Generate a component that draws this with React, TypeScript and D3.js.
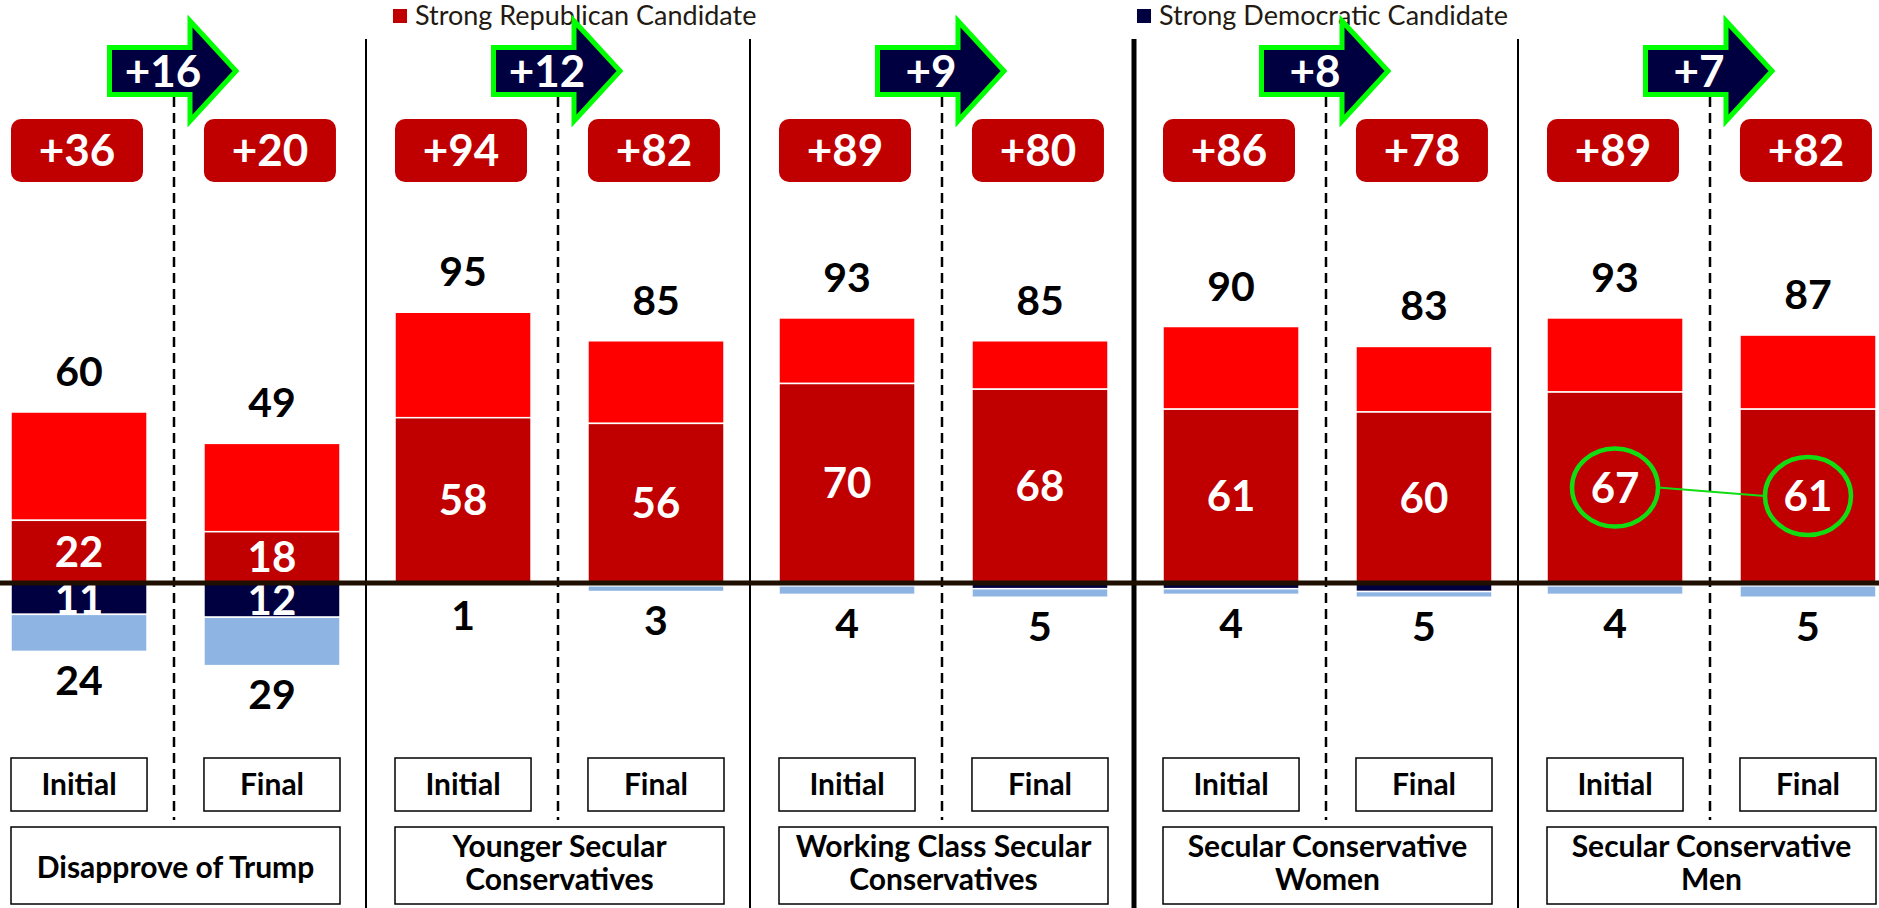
import React, { useEffect } from 'react';
import * as d3 from 'd3';

// ---------- data ----------
const groupLines: string[][] = [
  ['Disapprove of Trump'],
  ['Younger Secular', 'Conservatives'],
  ['Working Class Secular', 'Conservatives'],
  ['Secular Conservative', 'Women'],
  ['Secular Conservative', 'Men'],
];
const groupKeys = ['g0', 'g1', 'g2', 'g3', 'g4'];
const phases = ['Initial', 'Final'];
const strongRep = [[22, 18], [58, 56], [70, 68], [61, 60], [67, 61]];
const totalRep = [[60, 49], [95, 85], [93, 85], [90, 83], [93, 87]];
const strongDem = [[11, 12], [0, 1], [1, 2], [2, 3], [1, 1]];
const totalDem = [[24, 29], [1, 3], [4, 5], [4, 5], [4, 5]];
const legendItems = ['Strong Republican Candidate', 'Strong Democratic Candidate'];
const highlightGroup = 4;

// ---------- style ----------
const W = 1879;
const H = 908;
const FONT = "Lato, 'Open Sans', 'DejaVu Sans', sans-serif";
const C_WEAKR = '#FF0000';
const C_STRONGR = '#C00000';
const C_STRONGD = '#000040';
const C_WEAKD = '#8EB4E3';
const C_GREEN = '#00FF00';
const C_CIRCLE = '#11DD11';

export default function App() {
  useEffect(() => {
    document.body.style.margin = '0';
    document.body.style.overflow = 'hidden';
  }, []);

  const y0 = 583;
  const y = d3.scaleLinear().domain([0, 100]).range([y0, y0 - 285]);
  const yNeg = d3.scaleLinear().domain([0, 100]).range([y0, y0 + 285]);
  const px = d3.scaleBand<string>().domain(groupKeys).range([-18, -18 + 384 * groupKeys.length]);
  const bx = d3.scaleBand<string>().domain(phases).range([29, 358]).paddingInner(0.295);
  const bw = bx.bandwidth();
  const pw = px.bandwidth();

  const margins = totalRep.map((r, i) => r.map((v, j) => v - totalDem[i][j]));

  return (
    <svg width={W} height={H} style={{ position: 'absolute', left: 0, top: 0, display: 'block', background: '#fff' }} fontFamily={FONT}>
      {/* legend */}
      <rect x={393} y={9} width={14} height={14} fill={C_STRONGR} />
      <text x={415} y={25} fontSize={27} fill="#231a12">{legendItems[0]}</text>
      <rect x={1137} y={9} width={14} height={14} fill={C_STRONGD} />
      <text x={1159} y={25} fontSize={27} fill="#231a12">{legendItems[1]}</text>

      {/* separators */}
      {groupKeys.slice(1).map((g, k) => (
        <line key={'sep' + g} x1={px(g)!} x2={px(g)!} y1={39} y2={H} stroke="#000" strokeWidth={k === 2 ? 5 : 2} />
      ))}

      {groupKeys.map((g, i) => {
        const left = px(g)!;
        const cx = left + pw / 2;
        return (
          <g key={g}>
            {/* dashed divider */}
            <line x1={cx} x2={cx} y1={97} y2={820} stroke="#000" strokeWidth={2.5} strokeDasharray="10 6" />
            {phases.map((p, j) => {
              const x = left + bx(p)!;
              const tR = totalRep[i][j];
              const sR = strongRep[i][j];
              const sD = strongDem[i][j];
              const tD = totalDem[i][j];
              const xm = x + bw / 2;
              return (
                <g key={p}>
                  {/* margin box */}
                  <rect x={x} y={119} width={132} height={63} rx={10} fill={C_STRONGR} />
                  <text x={x + 66} y={150.5} dy="0.36em" textAnchor="middle" fontSize={44} fontWeight={700} fill="#fff">
                    {'+' + margins[i][j]}
                  </text>
                  {/* bars */}
                  <rect x={x} y={y(tR)} width={bw} height={y(sR) - y(tR)} fill={C_WEAKR} stroke="#fff" strokeWidth={1.5} />
                  <rect x={x} y={y(sR)} width={bw} height={y0 - y(sR)} fill={C_STRONGR} stroke="#fff" strokeWidth={1.5} />
                  {sD > 0 && (
                    <rect x={x} y={y0} width={bw} height={yNeg(sD) - y0} fill={C_STRONGD} stroke="#fff" strokeWidth={1.5} />
                  )}
                  <rect x={x} y={yNeg(sD)} width={bw} height={yNeg(tD) - yNeg(sD)} fill={C_WEAKD} stroke="#fff" strokeWidth={1.5} />
                  {/* labels */}
                  <text x={xm} y={y(tR) - 26} textAnchor="middle" fontSize={41} fontWeight={700} fill="#000">{tR}</text>
                  <text x={xm} y={(y(sR) + y0) / 2} dy="0.36em" textAnchor="middle" fontSize={42} fontWeight={700} fill="#fff">{sR}</text>
                  {sD >= 5 && (
                    <text x={xm} y={(yNeg(sD) + y0) / 2} dy="0.36em" textAnchor="middle" fontSize={42} fontWeight={700} fill="#fff">{sD}</text>
                  )}
                  <text x={xm} y={yNeg(tD) + 29} dy="0.36em" textAnchor="middle" fontSize={41} fontWeight={700} fill="#000">{tD}</text>
                  {/* phase box */}
                  <rect x={x} y={758} width={bw} height={53} fill="#fff" stroke="#000" strokeWidth={1.5} />
                  <text x={xm} y={795} textAnchor="middle" fontSize={30} fontWeight={700} fill="#000">{p}</text>
                </g>
              );
            })}
            {/* arrow */}
            <path
              d={`M${cx - 64.5},47.5 L${cx + 16},47.5 L${cx + 16},21 L${cx + 62},71 L${cx + 16},121 L${cx + 16},94.5 L${cx - 64.5},94.5 Z`}
              fill={C_STRONGD}
              stroke={C_GREEN}
              strokeWidth={5}
            />
            <text x={cx - 11} y={71} dy="0.36em" textAnchor="middle" fontSize={44} fontWeight={700} fill="#fff">
              {'+' + (margins[i][0] - margins[i][1])}
            </text>
            {/* group box */}
            <rect x={left + 29} y={827} width={329} height={77} fill="#fff" stroke="#000" strokeWidth={1.5} />
            {groupLines[i].length === 1 ? (
              <text x={left + 29 + 329 / 2} y={878} textAnchor="middle" fontSize={30} fontWeight={700} fill="#000">{groupLines[i][0]}</text>
            ) : (
              groupLines[i].map((t, k) => (
                <text key={k} x={left + 29 + 329 / 2} y={857 + k * 33} textAnchor="middle" fontSize={30} fontWeight={700} fill="#000">{t}</text>
              ))
            )}
          </g>
        );
      })}

      {/* baseline */}
      <line x1={0} x2={W} y1={y0} y2={y0} stroke="#1e0f00" strokeWidth={5} />

      {/* highlight ellipses */}
      {(() => {
        const g = groupKeys[highlightGroup];
        const left = px(g)!;
        const pts = phases.map((p, j) => ({
          x: left + bx(p)! + bw / 2,
          y: (y(strongRep[highlightGroup][j]) + y0) / 2,
        }));
        return (
          <g>
            <line x1={pts[0].x + 43} y1={pts[0].y} x2={pts[1].x - 43} y2={pts[1].y} stroke={C_CIRCLE} strokeWidth={2} />
            {pts.map((pt, k) => (
              <ellipse key={k} cx={pt.x} cy={pt.y} rx={43} ry={39} fill="none" stroke={C_CIRCLE} strokeWidth={4.5} />
            ))}
          </g>
        );
      })()}
    </svg>
  );
}
